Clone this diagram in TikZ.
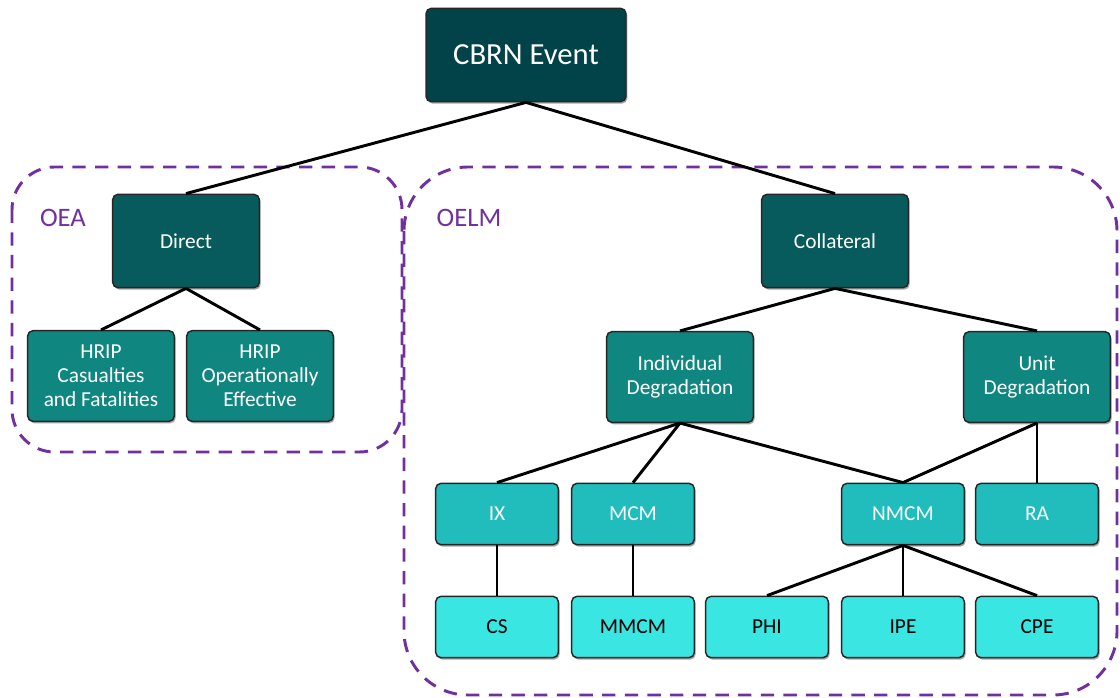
\documentclass[tikz,border=0pt]{standalone}
\usepackage{fontspec}
\setmainfont{Carlito}
\usepackage{tikz}
\usetikzlibrary{shadows}
\definecolor{rootfill}{HTML}{02434A}
\definecolor{lvltwo}{HTML}{075B5C}
\definecolor{lvlthree}{HTML}{0F8680}
\definecolor{lvlfour}{HTML}{20BDBC}
\definecolor{lvlfive}{HTML}{3AE6E2}
\definecolor{zone}{HTML}{7030A0}
\tikzset{
  box/.style={draw=black!85, line width=1.1pt, rounded corners=4pt, align=center,
    inner sep=2pt, text=white,
    drop shadow={shadow xshift=1pt, shadow yshift=-1.5pt, opacity=0.35, fill=black}},
  rootbox/.style={box, fill=rootfill, minimum width=150pt, minimum height=70pt,
    font=\fontsize{23}{27}\selectfont},
  effbox/.style={box, fill=lvltwo, minimum width=110pt, minimum height=70pt,
    font=\fontsize{16}{18}\selectfont},
  catbox/.style={box, fill=lvlthree, minimum width=110pt, minimum height=68pt,
    font=\fontsize{16}{18}\selectfont},
  subbox/.style={box, fill=lvlfour, minimum width=92pt, minimum height=46pt,
    font=\fontsize{16}{18}\selectfont},
  leafbox/.style={box, fill=lvlfive, text=black, minimum width=92pt, minimum height=46pt,
    font=\fontsize{16}{18}\selectfont},
  link/.style={draw=black, line width=2.2pt},
  zoneline/.style={draw=zone, line width=2.2pt, dash pattern=on 10pt off 7pt},
  zonelab/.style={text=zone, font=\fontsize{20}{24}\selectfont},
}

\begin{document}
\begin{tikzpicture}[x=0.75pt, y=-0.75pt]
  \useasboundingbox (0,0) rectangle (1120,698);

  % dashed zones
  \draw[zoneline, rounded corners=32pt] (12,167) rectangle (402,452);
  \draw[zoneline, rounded corners=48pt] (404,167) rectangle (1117,695);
  \node[zonelab] (oea) at (63,218) {OEA};
  \node[zonelab] (oelm) at (469,218) {OELM};

  % boxes
  \node[rootbox] (cbrn) at (526,55) {CBRN Event};

  \node[effbox] (direct) at (186,241) {Direct};
  \node[effbox] (coll) at (835,241) {Collateral};

  \node[catbox] (hripcf) at (101,376) {HRIP\\Casualties\\and Fatalities};
  \node[catbox] (hripoe) at (260,376) {HRIP\\Operationally\\Effective};
  \node[catbox] (indiv) at (680,377) {Individual\\Degradation};
  \node[catbox] (unit) at (1037,377) {Unit\\Degradation};

  \node[subbox] (ix) at (497,514) {IX};
  \node[subbox] (mcm) at (633,514) {MCM};
  \node[subbox] (nmcm) at (903,514) {NMCM};
  \node[subbox] (ra) at (1037,514) {RA};

  \node[leafbox] (cs) at (497,627) {CS};
  \node[leafbox] (mmcm) at (633,627) {MMCM};
  \node[leafbox] (phi) at (767,627) {PHI};
  \node[leafbox] (ipe) at (903,627) {IPE};
  \node[leafbox] (cpe) at (1037,627) {CPE};

  % connectors
  \draw[link] (cbrn.south) -- (direct.north);
  \draw[link] (cbrn.south) -- (coll.north);
  \draw[link] (direct.south) -- (hripcf.north);
  \draw[link] (direct.south) -- (hripoe.north);
  \draw[link] (coll.south) -- (indiv.north);
  \draw[link] (coll.south) -- (unit.north);
  \draw[link] (indiv.south) -- (ix.north);
  \draw[link] (indiv.south) -- (mcm.north);
  \draw[link] (indiv.south) -- (nmcm.north);
  \draw[link] (unit.south) -- (nmcm.north);
  \draw[link] (unit.south) -- (ra.north);
  \draw[link] (ix.south) -- (cs.north);
  \draw[link] (mcm.south) -- (mmcm.north);
  \draw[link] (nmcm.south) -- (phi.north);
  \draw[link] (nmcm.south) -- (ipe.north);
  \draw[link] (nmcm.south) -- (cpe.north);
\end{tikzpicture}
\end{document}
